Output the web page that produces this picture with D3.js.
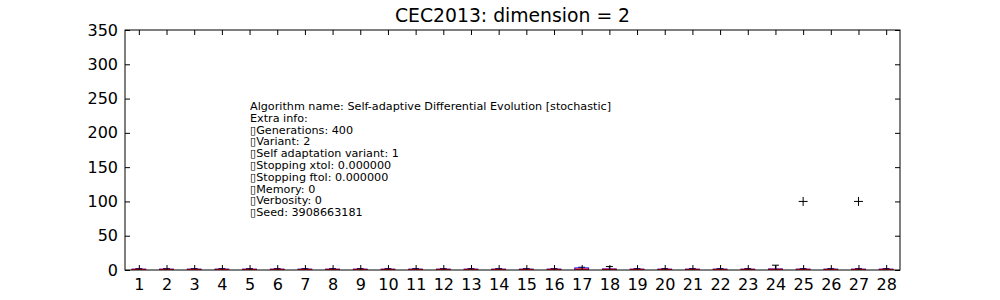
<!DOCTYPE html>
<html>
<head>
<meta charset="utf-8">
<script src="https://cdn.jsdelivr.net/npm/d3@7"></script>
<style>
  html, body { margin: 0; padding: 0; background: #fff; }
  svg { display: block; font-family: "DejaVu Sans", sans-serif; }
</style>
</head>
<body>
<svg id="chart" width="1000" height="300"></svg>
<script>
// ---- data ----
const categories = d3.range(1, 29).map(String);
const whiskerLow  = [0,0,0,0,0,0,0,0,0,0,0,0,0,0,0,0,0,0,0,0,0,0,0,0,0,0,0,0];
const q1Values    = [0.1,0.1,0.1,0.1,0.1,0.1,0.1,0.1,0.1,0.1,0.1,0.1,0.1,0.1,0.1,0.1,0.3,0.2,0.1,0.1,0.1,0.1,0.1,0.2,0.1,0.1,0.1,0.1];
const medianValues= [0.6,0.6,0.6,0.6,0.6,0.6,0.6,0.6,0.6,0.6,0.6,0.6,0.6,0.6,0.6,0.6,1.2,0.8,0.6,0.6,0.6,0.6,0.6,0.8,0.6,0.6,0.6,0.6];
const q3Values    = [1.2,1.2,1.2,1.2,1.2,1.2,1.2,1.2,1.2,1.2,1.2,1.2,1.2,1.2,1.2,1.2,3,1.5,1.2,1.2,1.2,1.2,1.2,1.5,1.2,1.2,1.2,1.2];
const whiskerHigh = [2,2,2,2,2,2,2,2,2,2,2,2,2,2,2,2,4,5,2,2,2,2,2,7,2,2,2,2];
const outlierCats = ["25", "27"];
const outlierValues = [100, 100];
const yTicks = [0, 50, 100, 150, 200, 250, 300, 350];
const titleText = "CEC2013: dimension = 2";
const infoLines = [
  "Algorithm name: Self-adaptive Differential Evolution [stochastic]",
  "Extra info:",
  "\u25AFGenerations: 400",
  "\u25AFVariant: 2",
  "\u25AFSelf adaptation variant: 1",
  "\u25AFStopping xtol: 0.000000",
  "\u25AFStopping ftol: 0.000000",
  "\u25AFMemory: 0",
  "\u25AFVerbosity: 0",
  "\u25AFSeed: 3908663181"
];

// ---- layout ----
const L = 125, R = 900, T = 30, B = 270;
const svg = d3.select("#chart");

const x = d3.scaleLinear().domain([0.5, 28.5]).range([L, R]);
const y = d3.scaleLinear().domain([0, 350]).range([B, T]);
const bw = x(1.25) - x(1);  // half-width of box (width 0.5)
const cw = x(1.125) - x(1); // half-width of caps

const boxes = categories.map((c, i) => ({
  c, i, lo: whiskerLow[i], q1: q1Values[i], med: medianValues[i], q3: q3Values[i], hi: whiskerHigh[i]
}));

svg.append("defs").append("clipPath").attr("id", "clip")
  .append("rect").attr("x", L).attr("y", T).attr("width", R - L).attr("height", B - T);

const plot = svg.append("g").attr("clip-path", "url(#clip)");

const g = plot.selectAll("g.box").data(boxes).enter().append("g").attr("class", "box");
const cx = d => x(+d.c);

// whiskers
g.append("line").attr("x1", cx).attr("x2", cx).attr("y1", d => y(d.q3)).attr("y2", d => y(d.hi))
  .attr("stroke", "#000");
g.append("line").attr("x1", cx).attr("x2", cx).attr("y1", d => y(d.q1)).attr("y2", d => y(d.lo))
  .attr("stroke", "#000");
// caps
g.append("line").attr("x1", d => cx(d) - cw).attr("x2", d => cx(d) + cw).attr("y1", d => y(d.hi)).attr("y2", d => y(d.hi))
  .attr("stroke", "#000");
g.append("line").attr("x1", d => cx(d) - cw).attr("x2", d => cx(d) + cw).attr("y1", d => y(d.lo)).attr("y2", d => y(d.lo))
  .attr("stroke", "#000");
// box
g.append("rect").attr("x", d => cx(d) - bw).attr("width", 2 * bw)
  .attr("y", d => y(d.q3)).attr("height", d => Math.max(0.5, y(d.q1) - y(d.q3)))
  .attr("fill", "none").attr("stroke", "#0000ff");
// median
g.append("line").attr("x1", d => cx(d) - bw).attr("x2", d => cx(d) + bw).attr("y1", d => y(d.med)).attr("y2", d => y(d.med))
  .attr("stroke", "#ff0000").attr("stroke-width", 1.5);

// fliers
const fl = outlierCats.map((c, i) => ({ c, v: outlierValues[i] }));
plot.selectAll("path.flier").data(fl).enter().append("path")
  .attr("d", d => `M${x(+d.c) - 4.5},${y(d.v)}h9M${x(+d.c)},${y(d.v) - 4.5}v9`)
  .attr("stroke", "#000").attr("stroke-width", 1).attr("fill", "none");

// ---- axes (matplotlib classic: ticks inside, all four sides) ----
const tickLen = 5;
const fs = 16;
const axBottom = d3.axisBottom(x).tickValues(categories.map(Number)).tickFormat(d3.format("d"))
  .tickSizeInner(-tickLen).tickSizeOuter(0).tickPadding(9);
const axTop = d3.axisTop(x).tickValues(categories.map(Number)).tickFormat("")
  .tickSizeInner(-tickLen).tickSizeOuter(0);
const axLeft = d3.axisLeft(y).tickValues(yTicks).tickFormat(d3.format("d"))
  .tickSizeInner(-tickLen).tickSizeOuter(0).tickPadding(7);
const axRight = d3.axisRight(y).tickValues(yTicks).tickFormat("")
  .tickSizeInner(-tickLen).tickSizeOuter(0);

function style(sel) {
  sel.selectAll(".domain").remove();
  sel.selectAll("line").attr("stroke", "#000");
  sel.selectAll("text").attr("fill", "#000").style("font-size", fs + "px").style("font-family", "DejaVu Sans");
}
svg.append("g").attr("transform", `translate(0,${B})`).call(axBottom).call(style);
svg.append("g").attr("transform", `translate(0,${T})`).call(axTop).call(style);
svg.append("g").attr("transform", `translate(${L},0)`).call(axLeft).call(style);
svg.append("g").attr("transform", `translate(${R},0)`).call(axRight).call(style);

// frame
svg.append("rect").attr("x", L).attr("y", T).attr("width", R - L).attr("height", B - T)
  .attr("fill", "none").attr("stroke", "#000").attr("stroke-width", 1);

// title
svg.append("text").attr("x", (L + R) / 2).attr("y", 22).attr("text-anchor", "middle")
  .style("font-size", "18.8px").style("font-family", "DejaVu Sans").text(titleText);

// info text
const info = svg.append("text").attr("x", 250).attr("y", 110)
  .style("font-size", "11.2px").style("font-family", "DejaVu Sans").attr("fill", "#000");
info.selectAll("tspan").data(infoLines).enter().append("tspan")
  .attr("x", 250).attr("dy", (d, i) => i === 0 ? 0 : 11.8).text(d => d);
</script>
</body>
</html>
